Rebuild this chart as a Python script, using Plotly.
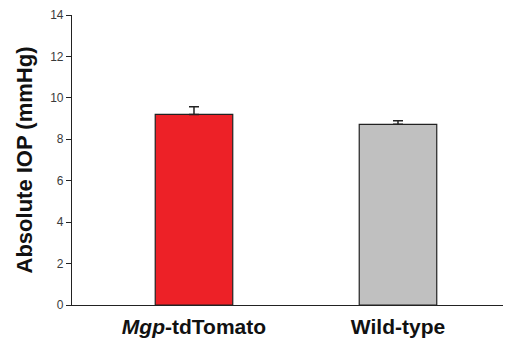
import plotly.graph_objects as go

categories = ["<i>Mgp</i>-tdTomato", "Wild-type"]
iop_mean = [9.2, 8.72]
iop_sem = [0.37, 0.18]
bar_colors = ["#ed2127", "#c0c0c0"]
y_ticks = [0, 2, 4, 6, 8, 10, 12, 14]

fig = go.Figure()
fig.add_trace(go.Bar(
    x=[0, 1], y=iop_mean,
    width=0.38,
    marker=dict(color=bar_colors, line=dict(color="#222222", width=1.2)),
    error_y=dict(type="data", array=iop_sem, arrayminus=[0, 0], symmetric=False,
                 color="#222222", thickness=1.5, width=5),
))

fig.update_layout(
    width=511, height=341,
    margin=dict(l=64, r=8, t=7, b=44, autoexpand=False),
    paper_bgcolor="white", plot_bgcolor="white",
    showlegend=False,
    font=dict(family="Liberation Sans, Arial, sans-serif", color="#111111"),
    xaxis=dict(
        range=[-0.598, 1.554],
        tickmode="array", tickvals=[0, 1], ticktext=["<b>" + c + "</b>" for c in categories],
        tickfont=dict(size=21, color="#111111"),
        showline=True, linecolor="#222222", linewidth=1.2,
        ticks="", showgrid=False, zeroline=False,
        ticklabelstandoff=3, automargin=False,
    ),
    yaxis=dict(
        range=[0, 14],
        tickmode="array", tickvals=y_ticks,
        tickfont=dict(size=12, color="#3a3a3a"),
        showline=True, linecolor="#222222", linewidth=1.2,
        ticks="outside", ticklen=5, tickcolor="#222222",
        showgrid=False, zeroline=False, automargin=False,
        ticklabeloverflow="allow",
        title=dict(text="<b>Absolute IOP (mmHg)</b>", font=dict(size=22, color="#111111"), standoff=11),
    ),
)

fig.write_html("out.html")
